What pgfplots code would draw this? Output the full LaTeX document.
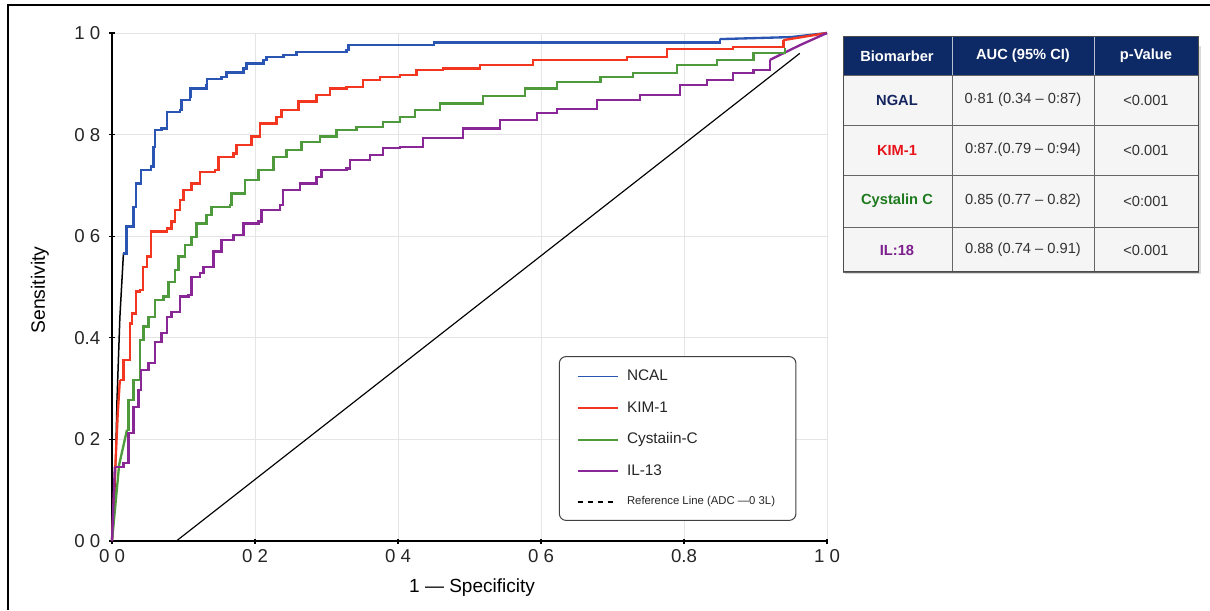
\documentclass[border=0pt]{standalone}
\usepackage{pgfplots}
\pgfplotsset{compat=1.18}
\usepackage{fontspec}
\setmainfont{Liberation Sans}
\definecolor{cblue}{HTML}{2B55B3}
\definecolor{cred}{HTML}{F2361F}
\definecolor{cgreen}{HTML}{4E9A3C}
\definecolor{cpurple}{HTML}{8A2796}
\definecolor{navy}{HTML}{0E2A66}
\definecolor{tnavy}{HTML}{14245E}
\definecolor{tred}{HTML}{E8141C}
\definecolor{tgreen}{HTML}{1E7A1E}
\definecolor{tpurple}{HTML}{7D1F8C}
\begin{document}
\begin{tikzpicture}
\begin{scope}[x=0.6pt,y=0.6pt]
\useasboundingbox (0,0) rectangle (1210,610);
\draw[line width=1.2pt,black] (8,0) -- (8,605) -- (1210,605);
% axis labels
\node[rotate=90,font=\fontsize{11.6}{13}\selectfont] at (40,320) {Sensitivity};
\node[font=\fontsize{11.4}{13}\selectfont] at (472,22) {1 — Specificity};
% table
\fill[black!15] (845,336) rectangle (1201,564);
\fill[navy] (843,535) rectangle (1198,573);
\foreach \yt/\yb in {535/485,485/435,435/383,383/338}{
  \draw[black!60,fill=white!96!black,line width=0.5pt] (843,\yt) rectangle (952,\yb);
  \draw[black!60,fill=white!96!black,line width=0.5pt] (952,\yt) rectangle (1094,\yb);
  \draw[black!60,fill=white!96!black,line width=0.5pt] (1094,\yt) rectangle (1198,\yb);
}
\draw[black!70,line width=0.6pt] (843,573) rectangle (1198,338);
\draw[white!70!navy,line width=0.5pt] (952,573) -- (952,535) (1094,573) -- (1094,535);
\begin{scope}[font=\fontsize{8.8}{10}\selectfont\bfseries,text=white]
\node at (897,554) {Biomarber};
\node at (1023,554) {AUC (95\% CI)};
\node at (1146,554) {p-Value};
\end{scope}
\begin{scope}[font=\fontsize{8.8}{10}\selectfont\bfseries]
\node[text=tnavy] at (897,510) {NGAL};
\node[text=tred] at (897,460) {KIM-1};
\node[text=tgreen] at (897,409) {Cystalin C};
\node[text=tpurple] at (897,360) {IL:18};
\end{scope}
\begin{scope}[font=\fontsize{8.8}{10}\selectfont,text=black!80]
\node at (1023,510) {0·81 (0.34 – 0:87)};
\node at (1023,460) {0:87.(0.79 – 0:94)};
\node at (1023,409) {0.85 (0.77 – 0.82)};
\node at (1023,360) {0.88 (0.74 – 0.91)};
\node at (1146,510) {<0.001};
\node at (1146,460) {<0.001};
\node at (1146,409) {<0:001};
\node at (1146,360) {<0.001};
\end{scope}
\end{scope}
\begin{axis}[
  at={(67.2pt,41.4pt)}, anchor=south west, scale only axis,
  width=429pt, height=304.8pt,
  xmin=0, xmax=1, ymin=0, ymax=1,
  axis lines=left,
  axis line style={black, line width=1.2pt, -},
  xtick={0,0.2,0.4,0.6,0.8,1},
  ytick={0,0.2,0.4,0.6,0.8,1},
  xticklabels={0\ 0,0\ 2,0\ 4,0\ 6,0.8,1\ 0},
  yticklabels={0\ 0,0\ 2,0.4,0\ 6,0\ 8,1\ 0},
  tick style={black, line width=0.7pt},
  major tick length=3pt,
  grid=major,
  major grid style={black!10, line width=0.5pt},
  ticklabel style={font=\fontsize{11.2}{13}\selectfont, text=black!85},
  yticklabel style={xshift=-2pt},
  clip=false,
  legend style={at={(axis cs:0.625,0.364)}, anchor=north west,
    draw=black!75, rounded corners=4pt, line width=0.6pt,
    font=\fontsize{9.2}{11}\selectfont, text=black!85,
    inner xsep=10.5pt, inner ysep=6pt, row sep=7pt,
    /tikz/every odd column/.append style={column sep=3pt},
    /tikz/every even column/.append style={column sep=14pt}},
  legend cell align=left,
  legend image code/.code={\draw[#1] (0pt,0pt) -- (24pt,0pt);},
  legend image post style={line width=1.1pt},
]
\addplot[black, line width=0.7pt, forget plot] coordinates {(0.09,0) (0.962,0.96)};
\addplot[black, line width=0.9pt, forget plot] coordinates {(0,0) (0.004,0.094) (0.007,0.277) (0.011,0.44) (0.016,0.566)};
\addplot[cred, line width=1.4pt, forget plot] coordinates {(0,0) (0.008,0.25) (0.011,0.317)};
\addplot[cgreen, line width=1.4pt, forget plot] coordinates {(0,0) (0.01,0.15) (0.021,0.219)};
\addplot[cpurple, line width=1.4pt, forget plot] coordinates {(0,0) (0.004,0.146)};
\addplot[cblue, line width=1.4pt, forget plot] coordinates {(0.85,0.988) (0.95,0.992) (1,1)};
\addplot[cred, line width=1.4pt, forget plot] coordinates {(0.939,0.986) (1,1)};
\addplot[cpurple, line width=1.4pt, forget plot] coordinates {(0.920,0.947) (0.962,0.976) (1,1)};
\addplot[cblue, line width=1.4pt, const plot] coordinates {
(0.016,0.566) (0.0205,0.619) (0.030,0.658) (0.034,0.704) (0.041,0.730) (0.055,0.737) (0.058,0.776) (0.060,0.809) (0.069,0.812) (0.077,0.845) (0.095,0.848) (0.097,0.868) (0.109,0.875) (0.110,0.891) (0.132,0.898) (0.133,0.909) (0.153,0.914) (0.160,0.922) (0.184,0.930) (0.188,0.940) (0.212,0.947) (0.216,0.953) (0.240,0.957) (0.258,0.963) (0.328,0.966) (0.331,0.976) (0.403,0.976) (0.45,0.981) (0.850,0.981) (0.850,0.988)};
\addlegendentry{NCAL}
\addplot[cred, line width=1.4pt, const plot] coordinates {
(0.011,0.317) (0.016,0.356) (0.025,0.428) (0.028,0.448) (0.034,0.491) (0.039,0.494) (0.043,0.540) (0.049,0.560) (0.055,0.609) (0.077,0.615) (0.083,0.629) (0.088,0.652) (0.095,0.671) (0.100,0.691) (0.111,0.704) (0.123,0.727) (0.144,0.730) (0.149,0.756) (0.170,0.763) (0.174,0.780) (0.195,0.796) (0.207,0.822) (0.230,0.835) (0.237,0.848) (0.261,0.865) (0.286,0.878) (0.305,0.891) (0.328,0.894) (0.351,0.907) (0.375,0.914) (0.403,0.917) (0.426,0.927) (0.463,0.930) (0.515,0.937) (0.589,0.947) (0.720,0.953) (0.776,0.968) (0.869,0.972) (0.939,0.986)};
\addlegendentry{KIM-1}
\addplot[cgreen, line width=1.4pt, const plot] coordinates {
(0.021,0.219) (0.023,0.278) (0.030,0.317) (0.039,0.396) (0.044,0.422) (0.051,0.441) (0.060,0.474) (0.072,0.481) (0.079,0.510) (0.088,0.533) (0.093,0.560) (0.102,0.583) (0.111,0.599) (0.118,0.625) (0.132,0.642) (0.139,0.658) (0.165,0.661) (0.167,0.684) (0.186,0.711) (0.205,0.730) (0.226,0.756) (0.244,0.770) (0.265,0.786) (0.291,0.796) (0.314,0.809) (0.342,0.815) (0.379,0.825) (0.403,0.835) (0.424,0.848) (0.459,0.861) (0.519,0.876) (0.578,0.891) (0.622,0.904) (0.683,0.914) (0.729,0.921) (0.790,0.937) (0.846,0.947) (0.897,0.960) (0.941,0.970)};
\addlegendentry{Cystaiin-C}
\addplot[cpurple, line width=1.4pt, const plot] coordinates {
(0.004,0.146) (0.016,0.153) (0.023,0.212) (0.030,0.264) (0.037,0.297) (0.041,0.337) (0.051,0.350) (0.060,0.392) (0.069,0.409) (0.077,0.441) (0.083,0.451) (0.095,0.481) (0.107,0.484) (0.111,0.520) (0.123,0.527) (0.128,0.540) (0.142,0.570) (0.153,0.593) (0.170,0.602) (0.184,0.625) (0.205,0.629) (0.209,0.652) (0.235,0.661) (0.239,0.691) (0.263,0.704) (0.286,0.717) (0.293,0.730) (0.328,0.733) (0.333,0.750) (0.361,0.760) (0.379,0.773) (0.403,0.776) (0.435,0.793) (0.491,0.812) (0.543,0.829) (0.594,0.842) (0.622,0.851) (0.678,0.868) (0.738,0.878) (0.794,0.898) (0.832,0.907) (0.869,0.921) (0.897,0.927) (0.920,0.947)};
\addlegendentry{IL-13}
\addlegendimage{black, dashed, line width=0.7pt}
\addlegendentry{\fontsize{6.8}{8}\selectfont Reference Line (ADC —0 3L)}
\end{axis}
\end{tikzpicture}
\end{document}
